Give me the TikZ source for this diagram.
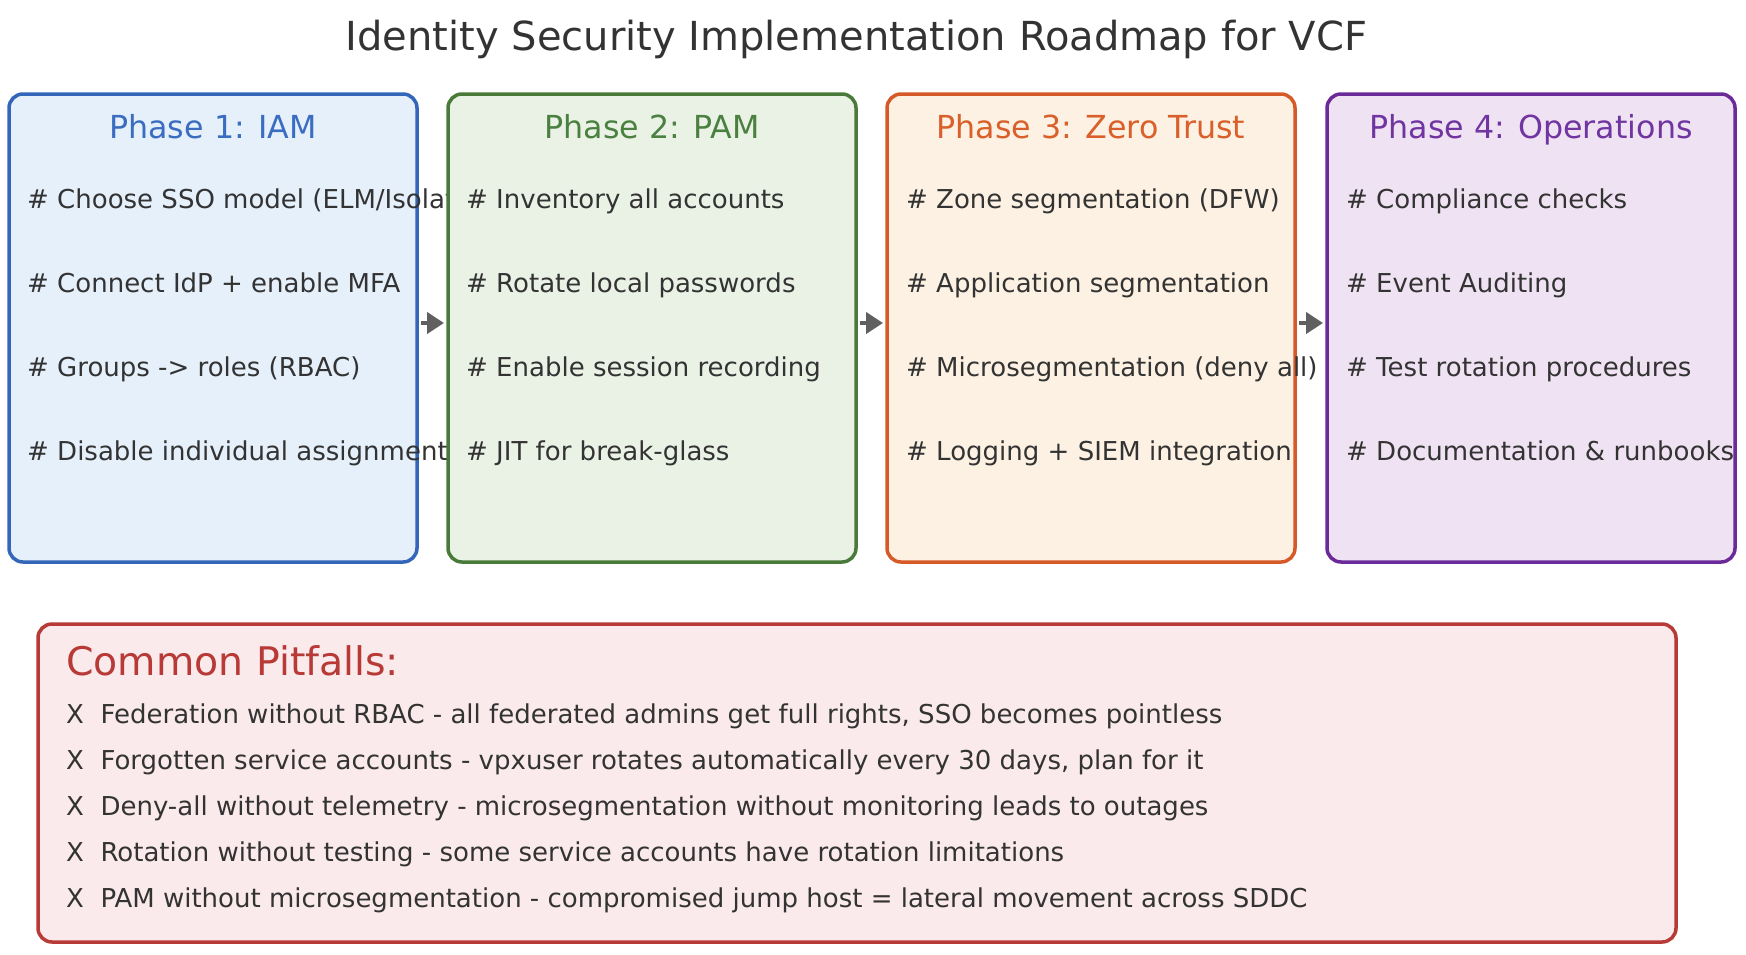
\documentclass[tikz,border=0pt]{standalone}
\usepackage{fontspec}
\setmainfont{DejaVu Sans}
\usetikzlibrary{arrows.meta}
\definecolor{txt}{HTML}{333333}
\definecolor{bA}{HTML}{3366B8}\definecolor{fA}{HTML}{E5F0FB}\definecolor{tA}{HTML}{3A6DC0}
\definecolor{bB}{HTML}{4A7A3A}\definecolor{fB}{HTML}{EAF2E6}\definecolor{tB}{HTML}{4A8040}
\definecolor{bC}{HTML}{D65A28}\definecolor{fC}{HTML}{FCF1E2}\definecolor{tC}{HTML}{D9602A}
\definecolor{bD}{HTML}{6A2A9A}\definecolor{fD}{HTML}{EFE3F3}\definecolor{tD}{HTML}{7035A0}
\definecolor{bE}{HTML}{B83A36}\definecolor{fE}{HTML}{FBEAEC}
\definecolor{arrc}{HTML}{606060}
\tikzset{
  phasebox/.style={draw=#1, line width=3.5pt, rounded corners=14pt, minimum width=408pt, minimum height=468pt, inner sep=0pt, outer sep=0pt, anchor=north west},
  phasetitle/.style={text=#1, font=\fontsize{31.7}{38}\selectfont, anchor=base, inner sep=0pt},
  item/.style={text=txt, font=\fontsize{26}{30}\selectfont, anchor=base west, inner sep=0pt},
  pitem/.style={text=txt, font=\fontsize{26}{30}\selectfont, anchor=base west, inner sep=0pt},
  arr/.style={draw=arrc, line width=4pt, -{Triangle[length=17pt,width=21pt]}, shorten <=4pt, shorten >=4pt},
}
\begin{document}
\begin{tikzpicture}[x=1pt,y=-1pt]
\useasboundingbox[fill=white] (0,0) rectangle (1746,954);
\node[text=txt, font=\fontsize{40}{48}\selectfont, anchor=base west, inner sep=0pt] (title) at (345.5,50) {Identity Security Implementation Roadmap for VCF};
% Phase 1
\node[phasebox=bA, fill=fA] (b1) at (9,94) {};
\node[phasetitle=tA] (t1) at (213,138) {Phase 1: IAM};
\node[item] (i11) at (27,208) {\# Choose SSO model (ELM/Isolated)};
\node[item] (i12) at (27,292) {\# Connect IdP + enable MFA};
\node[item] (i13) at (27,376) {\# Groups -> roles (RBAC)};
\node[item] (i14) at (27,460) {\# Disable individual assignments};
% Phase 2
\node[phasebox=bB, fill=fB] (b2) at (448,94) {};
\node[phasetitle=tB] (t2) at (652,138) {Phase 2: PAM};
\node[item] (i21) at (466,208) {\# Inventory all accounts};
\node[item] (i22) at (466,292) {\# Rotate local passwords};
\node[item] (i23) at (466,376) {\# Enable session recording};
\node[item] (i24) at (466,460) {\# JIT for break-glass};
% Phase 3
\node[phasebox=bC, fill=fC] (b3) at (887,94) {};
\node[phasetitle=tC] (t3) at (1091,138) {Phase 3: Zero Trust};
\node[item] (i31) at (906,208) {\# Zone segmentation (DFW)};
\node[item] (i32) at (906,292) {\# Application segmentation};
\node[item] (i33) at (906,376) {\# Microsegmentation (deny all)};
\node[item] (i34) at (906,460) {\# Logging + SIEM integration};
% Phase 4
\node[phasebox=bD, fill=fD] (b4) at (1327,94) {};
\node[phasetitle=tD] (t4) at (1531,138) {Phase 4: Operations};
\node[item] (i41) at (1346,208) {\# Compliance checks};
\node[item] (i42) at (1346,292) {\# Event Auditing};
\node[item] (i43) at (1346,376) {\# Test rotation procedures};
\node[item] (i44) at (1346,460) {\# Documentation \& runbooks};
% arrows
\draw[arr] ([yshift=5pt]b1.east) -- ([yshift=5pt]b2.west);
\draw[arr] ([yshift=5pt]b2.east) -- ([yshift=5pt]b3.west);
\draw[arr] ([yshift=5pt]b3.east) -- ([yshift=5pt]b4.west);
% pitfalls
\node[draw=bE, fill=fE, line width=3.5pt, rounded corners=14pt, minimum width=1638pt, minimum height=318pt, inner sep=0pt, outer sep=0pt, anchor=north west] (pf) at (38,624) {};
\node[text=bE, font=\fontsize{39.4}{46}\selectfont, anchor=base west, inner sep=0pt] (pft) at (66,675) {Common Pitfalls:};
\node[pitem] (p1) at (66,723) {X\ \ Federation without RBAC - all federated admins get full rights, SSO becomes pointless};
\node[pitem] (p2) at (66,769) {X\ \ Forgotten service accounts - vpxuser rotates automatically every 30 days, plan for it};
\node[pitem] (p3) at (66,815) {X\ \ Deny-all without telemetry - microsegmentation without monitoring leads to outages};
\node[pitem] (p4) at (66,861) {X\ \ Rotation without testing - some service accounts have rotation limitations};
\node[pitem] (p5) at (66,907) {X\ \ PAM without microsegmentation - compromised jump host = lateral movement across SDDC};
\end{tikzpicture}
\end{document}
